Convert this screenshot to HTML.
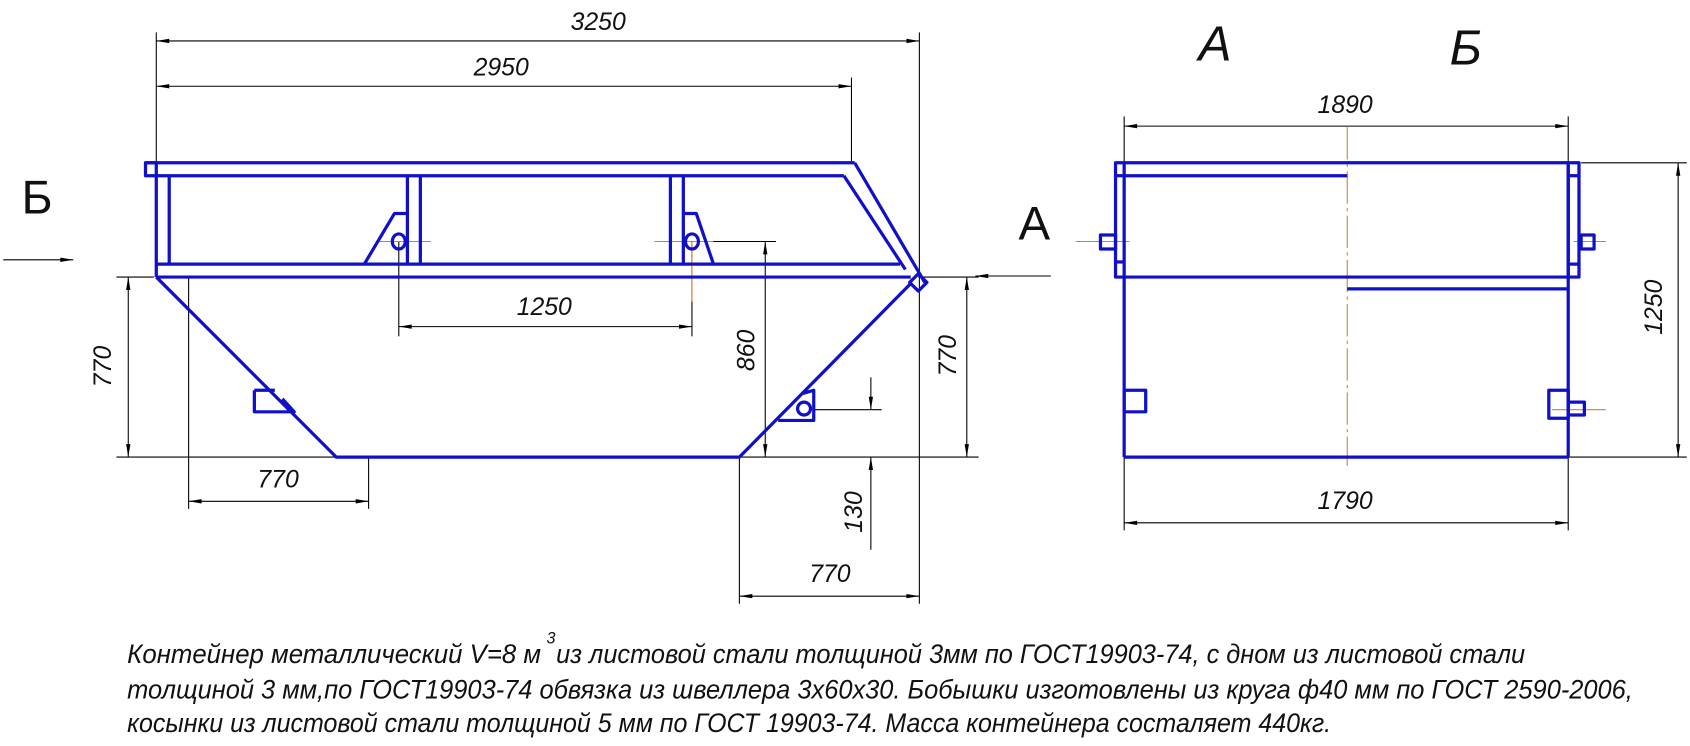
<!DOCTYPE html>
<html><head><meta charset="utf-8"><style>
html,body{margin:0;padding:0;background:#fff;}
svg{display:block}
text{font-family:"Liberation Sans","DejaVu Sans",sans-serif;font-style:italic;fill:#111}
</style></head><body>
<svg width="1690" height="746" viewBox="0 0 1568 692" preserveAspectRatio="none" xmlns="http://www.w3.org/2000/svg">
<defs>
<marker id="a" viewBox="0 0 12 6" refX="12" refY="3" markerWidth="14" markerHeight="6" orient="auto-start-reverse" markerUnits="userSpaceOnUse"><path d="M0,1 L12,3 L0,5 Z" fill="#000"/></marker>
</defs>
<g stroke="#000" stroke-width="1" fill="none">
<line x1="145" y1="30" x2="145" y2="150"/><line x1="853" y1="30" x2="853" y2="560"/>
<line x1="145" y1="38" x2="853" y2="38" marker-start="url(#a)" marker-end="url(#a)"/>
<line x1="790" y1="72" x2="790" y2="150"/>
<line x1="145" y1="80" x2="790" y2="80" marker-start="url(#a)" marker-end="url(#a)"/>
<line x1="108" y1="257" x2="143" y2="257"/><line x1="108" y1="424" x2="312" y2="424"/>
<line x1="119" y1="257" x2="119" y2="424" marker-start="url(#a)" marker-end="url(#a)"/>
<line x1="370" y1="224" x2="370" y2="312"/><line x1="642" y1="224" x2="642" y2="312"/>
<line x1="370" y1="303" x2="642" y2="303" marker-start="url(#a)" marker-end="url(#a)"/>
<line x1="645" y1="224" x2="720" y2="224"/>
<line x1="710" y1="224" x2="710" y2="424" marker-start="url(#a)" marker-end="url(#a)"/>
<line x1="852" y1="257" x2="908" y2="257"/><line x1="686" y1="424" x2="908" y2="424"/>
<line x1="897" y1="257" x2="897" y2="424" marker-start="url(#a)" marker-end="url(#a)"/>
<line x1="175" y1="257" x2="175" y2="472"/><line x1="342" y1="424" x2="342" y2="472"/>
<line x1="175" y1="465" x2="342" y2="465" marker-start="url(#a)" marker-end="url(#a)"/>
<line x1="755" y1="380" x2="818" y2="380"/>
<line x1="808" y1="350" x2="808" y2="380" marker-end="url(#a)"/>
<line x1="808" y1="510" x2="808" y2="424" marker-end="url(#a)"/>
<line x1="686" y1="424" x2="686" y2="560"/>
<line x1="686" y1="553" x2="853" y2="553" marker-start="url(#a)" marker-end="url(#a)"/>
<line x1="3" y1="241" x2="68" y2="241" marker-end="url(#a)"/>
<line x1="975" y1="256" x2="905" y2="256" marker-end="url(#a)"/>
<line x1="1043" y1="108" x2="1043" y2="150"/><line x1="1455" y1="108" x2="1455" y2="150"/>
<line x1="1043" y1="117" x2="1455" y2="117" marker-start="url(#a)" marker-end="url(#a)"/>
<line x1="1467" y1="151" x2="1565" y2="151"/><line x1="1455" y1="424" x2="1565" y2="424"/>
<line x1="1557" y1="151" x2="1557" y2="424" marker-start="url(#a)" marker-end="url(#a)"/>
<line x1="1043" y1="424" x2="1043" y2="492"/><line x1="1455" y1="424" x2="1455" y2="492"/>
<line x1="1043" y1="485" x2="1455" y2="485" marker-start="url(#a)" marker-end="url(#a)"/>
</g>
<g stroke="#d08030" stroke-width="1" fill="none">
<line x1="350" y1="224" x2="400" y2="224"/><line x1="607" y1="224" x2="662" y2="224"/>
<line x1="642" y1="224" x2="642" y2="280"/>
<line x1="1250" y1="118" x2="1250" y2="432" stroke-dasharray="30 4 3 4"/>
<line x1="998" y1="224" x2="1048" y2="224"/><line x1="1460" y1="224" x2="1490" y2="224"/>
<line x1="1440" y1="380" x2="1490" y2="380"/>
</g>
<g stroke="#1010c8" stroke-width="3" fill="none" stroke-linejoin="round">
<rect x="135" y="151" width="10" height="12"/>
<line x1="135" y1="151" x2="793" y2="151"/>
<line x1="145" y1="163" x2="783" y2="163"/>
<line x1="793" y1="151" x2="858" y2="262"/>
<line x1="783" y1="163" x2="840" y2="250"/>
<line x1="145" y1="163" x2="145" y2="257"/>
<line x1="157" y1="163" x2="157" y2="245"/>
<line x1="145" y1="245" x2="835" y2="245"/>
<line x1="145" y1="257" x2="845" y2="257"/>
<line x1="378" y1="163" x2="378" y2="245"/><line x1="390" y1="163" x2="390" y2="245"/>
<line x1="622" y1="163" x2="622" y2="245"/><line x1="634" y1="163" x2="634" y2="245"/>
<path d="M338,245 L366,198 L378,198"/>
<path d="M634,198 L646,198 L662,245"/>
<ellipse cx="370" cy="224" rx="6" ry="7"/>
<ellipse cx="642" cy="224" rx="6" ry="7"/>
<path d="M852,254 L860,262 L852,270 L844,262 Z"/>
<path d="M145,257 L312,424 L686,424 L845,263"/>
<path d="M236,362 L255,362 M236,362 L236,382 L273,382 L262,370"/>
<path d="M722,390 L755,390 L755,362 L745,365"/>
<circle cx="746" cy="379" r="6"/>
<rect x="1035" y="151" width="8" height="106"/>
<line x1="1035" y1="163" x2="1043" y2="163"/><line x1="1035" y1="243" x2="1043" y2="243"/>
<line x1="1043" y1="151" x2="1455" y2="151"/>
<line x1="1043" y1="163" x2="1250" y2="163"/>
<line x1="1043" y1="257" x2="1455" y2="257"/>
<line x1="1250" y1="268" x2="1455" y2="268"/>
<line x1="1043" y1="257" x2="1043" y2="424"/>
<line x1="1043" y1="424" x2="1455" y2="424"/>
<line x1="1455" y1="151" x2="1455" y2="424"/>
<rect x="1455" y="151" width="10" height="106"/>
<line x1="1455" y1="163" x2="1465" y2="163"/><line x1="1455" y1="245" x2="1465" y2="245"/>
<rect x="1021" y="218" width="14" height="13"/>
<rect x="1467" y="218" width="12" height="13"/>
<rect x="1043" y="362" width="20" height="20"/>
<rect x="1437" y="362" width="18" height="26"/>
<rect x="1455" y="373" width="15" height="12"/>
</g>
<text x="555" y="28" font-size="23" text-anchor="middle">3250</text>
<text x="465" y="70" font-size="23" text-anchor="middle">2950</text>
<text x="505" y="292" font-size="23" text-anchor="middle">1250</text>
<text x="258" y="452" font-size="23" text-anchor="middle">770</text>
<text x="770" y="540" font-size="23" text-anchor="middle">770</text>
<text font-size="23" text-anchor="middle" transform="translate(103,340) rotate(-90)">770</text>
<text font-size="23" text-anchor="middle" transform="translate(887,330) rotate(-90)">770</text>
<text font-size="23" text-anchor="middle" transform="translate(700,325) rotate(-90)">860</text>
<text font-size="23" text-anchor="middle" transform="translate(800,475) rotate(-90)">130</text>
<text x="1248" y="105" font-size="23" text-anchor="middle">1890</text>
<text x="1248" y="472" font-size="23" text-anchor="middle">1790</text>
<text font-size="23" text-anchor="middle" transform="translate(1542,285) rotate(-90)">1250</text>
<text x="20" y="198" font-size="44" style="font-style:normal">Б</text>
<text x="945" y="222" font-size="44" style="font-style:normal">A</text>
<text x="1112" y="56" font-size="46">A</text>
<text x="1345" y="60" font-size="46">Б</text>
<text x="118" y="615" font-size="25" textLength="384" lengthAdjust="spacingAndGlyphs">Контейнер металлический  V=8 м</text>
<text x="507" y="597" font-size="15">3</text>
<text x="516" y="615" font-size="25" textLength="899" lengthAdjust="spacingAndGlyphs">из листовой стали толщиной 3мм по ГОСТ19903-74, с дном из листовой стали</text>
<text x="118" y="648" font-size="25" textLength="1397" lengthAdjust="spacingAndGlyphs">толщиной 3 мм,по ГОСТ19903-74 обвязка из швеллера 3х60х30. Бобышки изготовлены из круга ф40 мм по ГОСТ 2590-2006,</text>
<text x="118" y="679" font-size="25" textLength="1117" lengthAdjust="spacingAndGlyphs">косынки из листовой стали толщиной 5 мм по ГОСТ 19903-74. Масса контейнера состаляет 440кг.</text>
</svg>
</body></html>
